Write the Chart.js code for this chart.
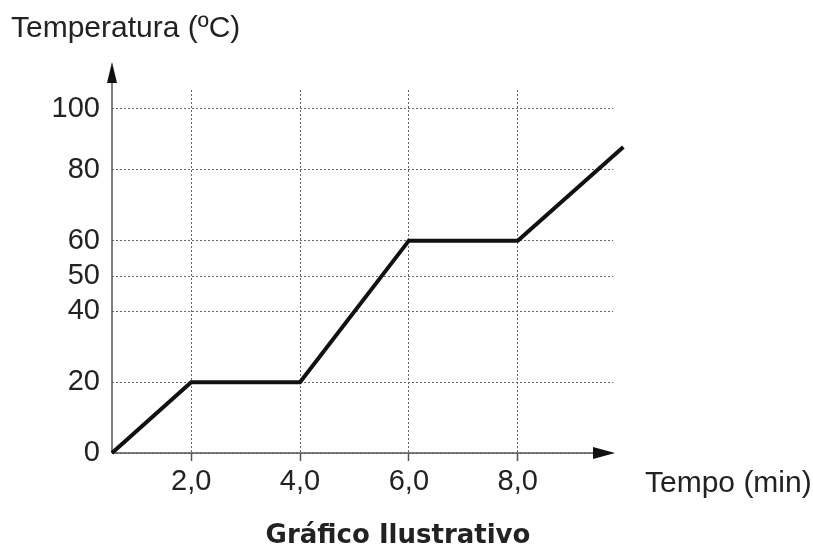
<!DOCTYPE html>
<html>
<head>
<meta charset="utf-8">
<script src="https://cdn.jsdelivr.net/npm/chart.js@4"></script>
<style>
  html, body { margin: 0; padding: 0; background: #fff; }
  #wrap { width: 813px; height: 549px; position: relative; }
</style>
</head>
<body>
<div id="wrap"><canvas id="c" width="813" height="549"></canvas></div>
<script>
// ---- data ----
const timeMin = [0, 2, 4, 6, 8, 9.94];
const tempC = [0, 20, 20, 60, 60, 87.5];
const xTickValues = [2, 4, 6, 8];
const xTickLabels = ['2,0', '4,0', '6,0', '8,0'];
const yTickValues = [0, 20, 40, 50, 60, 80, 100];
const yTickLabels = ['0', '20', '40', '50', '60', '80', '100'];
const yTitle = 'Temperatura (ºC)';
const xTitle = 'Tempo (min)';
const chartTitle = 'Gráfico Ilustrativo';

// illustrative (non-uniform) axes: value -> fraction of axis length
const AXIS_BREAKS = {
  x: [[0, 0], [2, 0.158], [9.75, 1]],
  y: [[0, 0], [80, 0.78], [100, 0.948], [106, 1]]
};

class PiecewiseScale extends Chart.LinearScale {
  static id = 'piecewise';
  _toFrac(v) {
    const b = AXIS_BREAKS[this.axis];
    for (let i = 1; i < b.length; i++) {
      if (v <= b[i][0] || i === b.length - 1) {
        const [v0, f0] = b[i - 1], [v1, f1] = b[i];
        return f0 + (v - v0) / (v1 - v0) * (f1 - f0);
      }
    }
    return 0;
  }
  _fromFrac(f) {
    const b = AXIS_BREAKS[this.axis];
    for (let i = 1; i < b.length; i++) {
      if (f <= b[i][1] || i === b.length - 1) {
        const [v0, f0] = b[i - 1], [v1, f1] = b[i];
        return v0 + (f - f0) / (f1 - f0) * (v1 - v0);
      }
    }
    return 0;
  }
  getPixelForValue(v) {
    if (v === null || v === undefined || isNaN(v)) return NaN;
    return this.getPixelForDecimal(this._toFrac(v));
  }
  getValueForPixel(p) {
    return this._fromFrac(this.getDecimalForPixel(p));
  }
}
Chart.register(PiecewiseScale);

const FONT = "'Liberation Sans', Arial, sans-serif";
const TEXT = '#222';

const overlay = {
  id: 'overlay',
  beforeDatasetsDraw(chart) {
    const { ctx, chartArea, scales: { x, y } } = chart;
    const x0 = x.getPixelForValue(0), y0 = y.getPixelForValue(0);
    ctx.save();
    ctx.strokeStyle = '#555';
    ctx.fillStyle = '#111';
    ctx.lineWidth = 1.5;
    // y axis + arrow
    const yTip = chartArea.top - 28;
    ctx.beginPath(); ctx.moveTo(x0, y0); ctx.lineTo(x0, yTip + 18); ctx.stroke();
    ctx.beginPath(); ctx.moveTo(x0, yTip); ctx.lineTo(x0 - 5, yTip + 21); ctx.lineTo(x0 + 5, yTip + 21); ctx.closePath(); ctx.fill();
    // x axis + arrow
    const xTip = chartArea.right + 2;
    ctx.beginPath(); ctx.moveTo(x0, y0); ctx.lineTo(xTip - 18, y0); ctx.stroke();
    ctx.beginPath(); ctx.moveTo(xTip, y0); ctx.lineTo(xTip - 22, y0 - 6); ctx.lineTo(xTip - 22, y0 + 6); ctx.closePath(); ctx.fill();
    ctx.restore();
  },
  afterDraw(chart) {
    const { ctx, chartArea } = chart;
    ctx.save();
    ctx.fillStyle = TEXT;
    ctx.textAlign = 'left';
    ctx.textBaseline = 'alphabetic';
    ctx.font = '30px ' + FONT;
    ctx.fillText(yTitle, 11, 37);
    ctx.fillText(xTitle, chartArea.right + 32, 492);
    ctx.font = 'bold 26px "DejaVu Sans", Verdana, sans-serif';
    ctx.textAlign = 'center';
    ctx.textBaseline = 'middle';
    ctx.fillText(chartTitle, 398, 536);
    ctx.restore();
  }
};

new Chart(document.getElementById('c'), {
  type: 'line',
  data: {
    datasets: [{
      data: timeMin.map((t, i) => ({ x: t, y: tempC[i] })),
      borderColor: '#111',
      borderWidth: 4,
      pointRadius: 0,
      tension: 0,
      clip: false,
      borderJoinStyle: 'miter'
    }]
  },
  options: {
    responsive: false,
    animation: false,
    devicePixelRatio: 1,
    layout: { padding: { top: 90, right: 200, left: 0, bottom: 26 } },
    plugins: { legend: { display: false }, tooltip: { enabled: false }, title: { display: false } },
    scales: {
      x: {
        type: 'piecewise',
        min: 0, max: 9.75,
        afterBuildTicks: s => { s.ticks = xTickValues.map(v => ({ value: v })); },
        afterFit: s => { s.height = 70; },
        border: { display: false, dash: [2, 2] },
        grid: {
          color: '#666', lineWidth: 1,
          drawTicks: true, tickLength: 8, tickColor: '#555', tickWidth: 1.5, tickBorderDash: []
        },
        ticks: {
          autoSkip: false, maxRotation: 0, padding: 4, color: TEXT,
          font: { family: FONT, size: 29 },
          callback: (v, i) => xTickLabels[i]
        }
      },
      y: {
        type: 'piecewise',
        min: 0, max: 106,
        afterBuildTicks: s => { s.ticks = yTickValues.map(v => ({ value: v })); },
        afterFit: s => { s.width = 112; },
        border: { display: false, dash: [2, 2] },
        grid: { color: '#666', lineWidth: 1, drawTicks: false },
        ticks: {
          padding: 12, color: TEXT,
          font: { family: FONT, size: 29 },
          callback: (v, i) => yTickLabels[i]
        }
      }
    }
  },
  plugins: [overlay]
});
</script>
</body>
</html>
